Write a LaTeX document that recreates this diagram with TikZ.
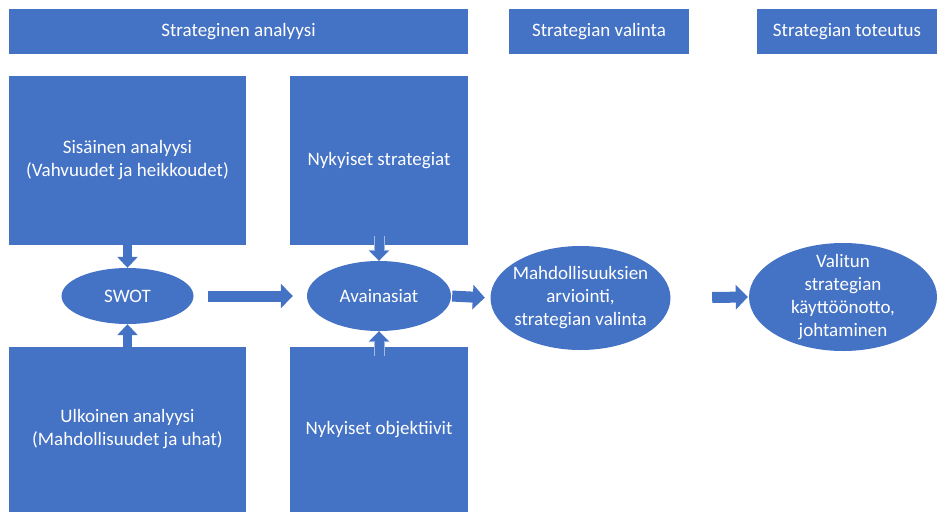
\documentclass[tikz,border=0pt]{standalone}
\usepackage{fontspec}
\setmainfont{Carlito}
\usetikzlibrary{arrows.meta,shapes.geometric}
\definecolor{officeblue}{HTML}{4472C4}
\definecolor{arrowedge}{HTML}{A3B9E2}
\tikzset{
	box/.style={fill=officeblue, text=white, inner sep=0pt, align=center, font=\fontsize{19}{23}\selectfont},
	header/.style={box, minimum height=45pt},
	oval/.style={box, ellipse},
	blockarr/.style={officeblue, line width=11pt, -{Triangle[width=24pt, length=12pt]}},
	narrowarr/.style={officeblue, line width=9pt, -{Triangle[width=20pt, length=11pt]}},
	edgearr/.style={officeblue, line width=9pt, -{Triangle[width=10pt 1, length=10pt]},
		preaction={draw=arrowedge, line width=11pt, -{Triangle[width=10pt 1, length=11pt]}}}
}

\begin{document}
\begin{tikzpicture}[x=1pt, y=-1pt]
		%%%%% START %%%%%
		\useasboundingbox (0, 0) rectangle (937, 512);
		
		\node[header, minimum width=459pt] (hanal) at (238.5, 31.5) {Strateginen analyysi};
		\node[header, minimum width=180pt] (hval) at (599, 31.5) {Strategian valinta};
		\node[header, minimum width=180pt] (htot) at (847, 31.5) {Strategian toteutus};
		
		\node[box, minimum width=237pt, minimum height=169pt] (sis) at (127.5, 160.5) {Sisäinen analyysi\\(Vahvuudet ja heikkoudet)};
		\node[box, minimum width=237pt, minimum height=165pt] (ulk) at (127.5, 429.5) {Ulkoinen analyysi\\(Mahdollisuudet ja uhat)};
		\node[box, minimum width=178pt, minimum height=169pt] (strat) at (379, 160.5) {Nykyiset strategiat};
		\node[box, minimum width=178pt, minimum height=165pt] (obj) at (379, 429.5) {Nykyiset objektiivit};
		
		\node[oval, minimum width=132pt, minimum height=56pt] (swot) at (127.5, 296) {SWOT};
		\node[oval, minimum width=144pt, minimum height=70pt] (avain) at (379, 296) {Avainasiat};
		\node[oval, inner sep=-8pt, minimum width=180pt, minimum height=104pt] (mahd) at (580.5, 298) {Mahdollisuuksien\\arviointi,\\strategian valinta};
		\node[oval, inner sep=-8pt, minimum width=188pt, minimum height=108pt] (valit) at (843, 297) {Valitun\\strategian\\käyttöönotto,\\johtaminen};
		
		\draw[narrowarr] (sis.south) -- (swot.north);
		\draw[narrowarr] (ulk.north) -- (swot.south);
		\draw[edgearr, shorten <=-9pt] (strat.south) -- (avain.north);
		\draw[edgearr, shorten <=-9pt] (obj.north) -- (avain.south);
		
		\draw[blockarr, shorten <=14.5pt, shorten >=14pt] (swot.east) -- (avain.west);
		\draw[blockarr, shorten <=1pt, shorten >=5.5pt] (avain.east) -- (mahd.west);
		\draw[blockarr, shorten <=41.5pt, shorten >=1pt] (mahd.east) -- (valit.west);
		
		%%%%% END %%%%%
	\end{tikzpicture}
\end{document}
